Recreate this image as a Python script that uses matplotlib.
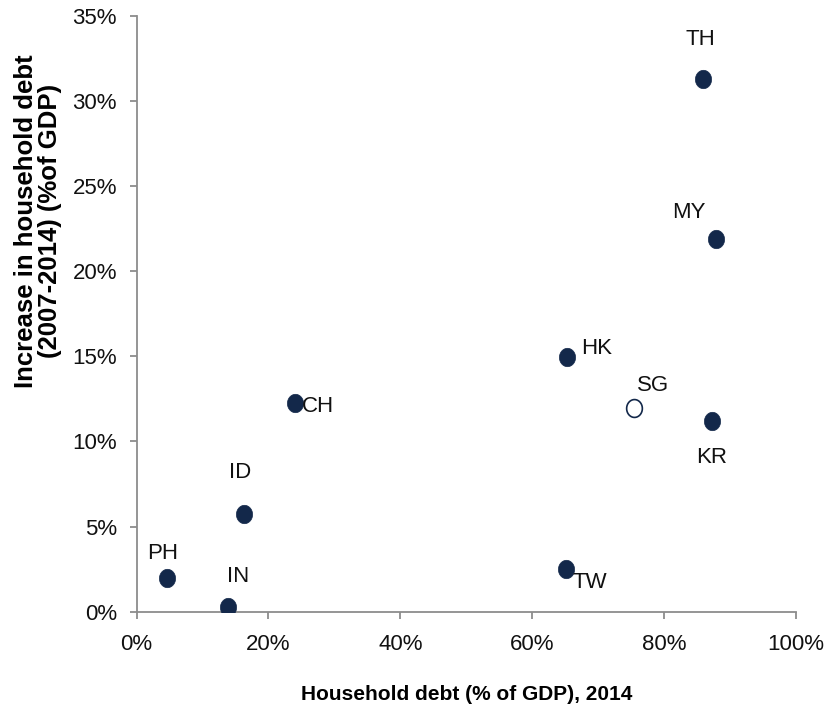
import matplotlib
matplotlib.use("Agg")
import matplotlib.pyplot as plt
import numpy as np
from matplotlib.path import Path
from matplotlib.ticker import FuncFormatter

countries = ["TH", "MY", "HK", "SG", "KR", "CH", "ID", "PH", "IN", "TW"]
debt_2014 = [85.9, 87.9, 65.3, 75.5, 87.2, 24.0, 16.3, 4.6, 13.9, 65.1]
increase = [31.3, 21.9, 14.96, 11.96, 11.2, 12.25, 5.74, 2.0, 0.3, 2.5]
hollow = ["SG"]
# label offsets in pixels (dx, dy)
label_offsets = [(-3, 39), (-27, 26), (29, 8), (19, 23), (0, -37),
                 (23, -3), (-4, 41), (-4, 24), (10, 30), (24, -13)]
x_ticks = [0, 20, 40, 60, 80, 100]
y_ticks = [0, 5, 10, 15, 20, 25, 30, 35]

navy = "#13284a"
grey = "#8c8c8c"
plt.rcParams['font.family'] = ['Liberation Sans', 'DejaVu Sans']

fig = plt.figure(figsize=(8.28, 7.10), dpi=100)
ax = fig.add_axes([0.1649, 0.1385, 0.9614 - 0.1649, 0.9779 - 0.1385])

# ellipse marker slightly taller than wide
t = np.linspace(0, 2 * np.pi, 60)
verts = np.column_stack([0.88 * np.cos(t), np.sin(t)])
ell = Path(verts, closed=True)

for c, x, y in zip(countries, debt_2014, increase):
    if c in hollow:
        ax.scatter([x], [y], marker=ell, s=165, facecolor="white",
                   edgecolor=navy, linewidth=1.2, zorder=3)
    else:
        ax.scatter([x], [y], marker=ell, s=175, facecolor=navy,
                   edgecolor=navy, linewidth=0.5, zorder=3)

for c, x, y, (dx, dy) in zip(countries, debt_2014, increase, label_offsets):
    ax.annotate(c, (x, y), xytext=(dx, dy), textcoords="offset pixels",
                ha="center", va="center", fontsize=16, color="#111111")

ax.set_xlim(0, 100)
ax.set_ylim(0, 35)
ax.set_xticks(x_ticks)
ax.set_yticks(y_ticks)
ax.xaxis.set_major_formatter(FuncFormatter(lambda v, p: f"{v:.0f}%"))
ax.yaxis.set_major_formatter(FuncFormatter(lambda v, p: f"{v:.0f}%"))
for s in ["top", "right"]:
    ax.spines[s].set_visible(False)
for s in ["left", "bottom"]:
    ax.spines[s].set_color(grey)
    ax.spines[s].set_linewidth(1.3)
ax.tick_params(axis="both", direction="out", length=5, width=1.3,
               color=grey, labelsize=16, labelcolor="#111111")
ax.tick_params(axis="x", pad=11)
ax.tick_params(axis="y", pad=9)

ax.set_xlabel("Household debt (% of GDP), 2014", fontsize=15,
              fontweight="bold", labelpad=22)
ax.set_ylabel("Increase in household debt\n(2007-2014) (%of GDP)",
              fontsize=18.5, fontweight="bold", linespacing=1.0)
ax.yaxis.set_label_coords(-0.113, 0.655)

fig.savefig("out.png", dpi=100)
